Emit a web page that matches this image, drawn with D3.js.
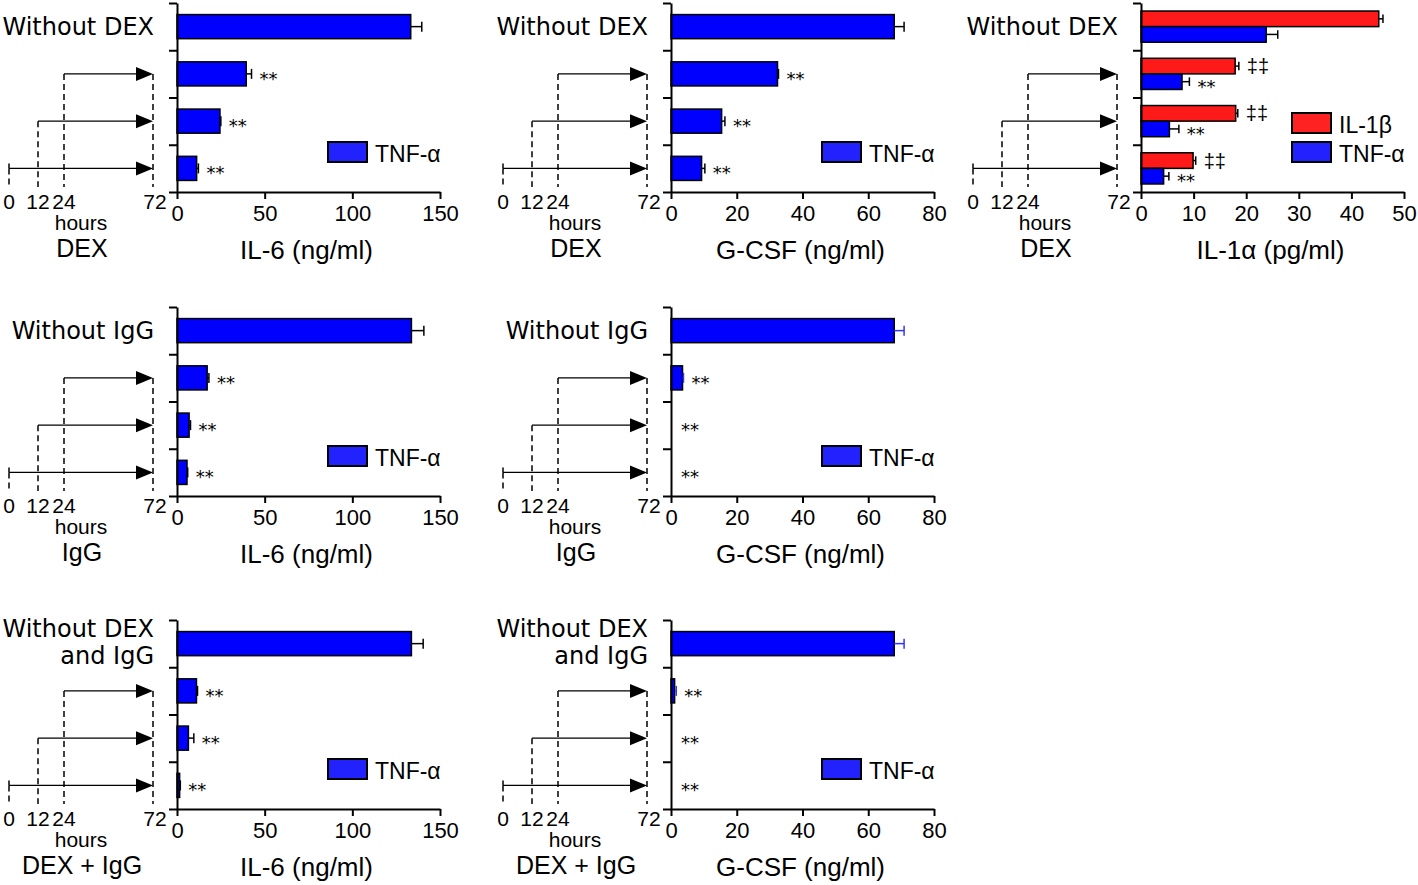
<!DOCTYPE html>
<html><head><meta charset="utf-8">
<script src="https://cdn.jsdelivr.net/npm/d3@7"></script>
<style>body{margin:0;background:#fff}svg{display:block}</style>
</head><body>
<svg id="c" width="1418" height="885"></svg>
<script>
// ---------- DATA ----------
const startHours = [null, 24, 12, 0];          // DEX/IgG given from hour .. to 72
const timeTicks = [0, 12, 24, 72];
const sigTNF = ["", "**", "**", "**"];
const sigIL1b = ["", "\u2021\u2021", "\u2021\u2021", "\u2021\u2021"];

const il6Ticks = [0, 50, 100, 150];
const gcsfTicks = [0, 20, 40, 60, 80];
const il1aTicks = [0, 10, 20, 30, 40, 50];

// Row 1: DEX
const il6Dex = [133.3, 39.5, 24.5, 11.2];
const il6DexErr = [6.3, 3.0, 0.5, 1.0];
const gcsfDex = [67.9, 32.4, 15.4, 9.3];
const gcsfDexErr = [3.0, 0.3, 1.0, 1.0];
const il1aDexIL1b = [45.2, 17.9, 18.0, 9.9];
const il1aDexIL1bErr = [0.8, 0.7, 0.4, 0.5];
const il1aDexTNF = [23.8, 7.8, 5.4, 4.3];
const il1aDexTNFErr = [2.2, 1.4, 1.8, 1.0];
// Row 2: IgG
const il6IgG = [133.7, 17.2, 6.9, 5.7];
const il6IgGErr = [7.1, 1.0, 0.8, 0.4];
const gcsfIgG = [67.9, 3.5, 0, 0];
const gcsfIgGErr = [3.0, 0.3, 0, 0];
// Row 3: DEX + IgG
const il6DexIgG = [133.7, 11.1, 6.5, 1.5];
const il6DexIgGErr = [6.7, 0.6, 3.1, 0.4];
const gcsfDexIgG = [67.9, 1.1, 0, 0];
const gcsfDexIgGErr = [3.0, 0.5, 0, 0];

const controlDex = ["Without DEX"];
const controlIgG = ["Without IgG"];
const controlDexIgG = ["Without DEX", "and IgG"];

// ---------- STYLE / LAYOUT ----------
const BLUE = "#0000ff", BLUE_LEG = "#2222ff", RED = "#ff1a1a", RED_LEG = "#ff2222";
const FONT = "'Liberation Sans', Arial, sans-serif";
const LFONT = "'DejaVu Sans', sans-serif";
const colX = [177, 671, 1141];
const rowY = [3, 307, 620];
const W = 263, H = 189;

const svg = d3.select("#c");

const tnfSeries = (v, e, errColor) => ({name: "TNF-\u03b1", values: v, err: e, color: BLUE, leg: BLUE_LEG, sig: sigTNF, errColor: errColor || "#000"});

const panels = [
  {col:0,row:0,ticks:il6Ticks,title:"IL-6 (ng/ml)",treat:"DEX",control:controlDex,series:[tnfSeries(il6Dex,il6DexErr)]},
  {col:1,row:0,ticks:gcsfTicks,title:"G-CSF (ng/ml)",treat:"DEX",control:controlDex,series:[tnfSeries(gcsfDex,gcsfDexErr)]},
  {col:2,row:0,ticks:il1aTicks,title:"IL-1\u03b1 (pg/ml)",treat:"DEX",control:controlDex,series:[
     {name:"IL-1\u03b2",values:il1aDexIL1b,err:il1aDexIL1bErr,color:RED,leg:RED_LEG,sig:sigIL1b,errColor:"#000"},
     tnfSeries(il1aDexTNF,il1aDexTNFErr)]},
  {col:0,row:1,ticks:il6Ticks,title:"IL-6 (ng/ml)",treat:"IgG",control:controlIgG,series:[tnfSeries(il6IgG,il6IgGErr)]},
  {col:1,row:1,ticks:gcsfTicks,title:"G-CSF (ng/ml)",treat:"IgG",control:controlIgG,series:[tnfSeries(gcsfIgG,gcsfIgGErr,"#3333ff")]},
  {col:0,row:2,ticks:il6Ticks,title:"IL-6 (ng/ml)",treat:"DEX + IgG",control:controlDexIgG,series:[tnfSeries(il6DexIgG,il6DexIgGErr)]},
  {col:1,row:2,ticks:gcsfTicks,title:"G-CSF (ng/ml)",treat:"DEX + IgG",control:controlDexIgG,series:[tnfSeries(gcsfDexIgG,gcsfDexIgGErr,"#3333ff")]}
];

function drawPanel(p) {
  const g = svg.append("g").attr("transform", `translate(${colX[p.col]},${rowY[p.row]})`);
  const x = d3.scaleLinear().domain(d3.extent(p.ticks)).range([0, W]);
  const y = d3.scaleBand().domain(d3.range(4)).range([0, H]);
  const bw = y.bandwidth();
  const nS = p.series.length;
  const frac = nS === 1 ? 0.51 : 0.66;
  const inner = d3.scaleBand().domain(d3.range(nS)).range([bw*(1-frac)/2, bw*(1+frac)/2]);
  const bh = inner.bandwidth();

  // bars
  p.series.forEach((s, si) => {
    const gs = g.append("g");
    gs.selectAll("rect").data(s.values.map((v,i)=>({v,i}))).join("rect")
      .filter(d => d.v > 0)
      .attr("x", x(0)).attr("y", d => y(d.i) + inner(si))
      .attr("width", d => x(d.v) - x(0)).attr("height", bh)
      .attr("fill", s.color).attr("stroke", "#000").attr("stroke-width", 1.5);
    // error bars
    s.values.forEach((v, i) => {
      const e = s.err[i];
      const cy = y(i) + inner(si) + bh/2;
      if (e > 0) {
        const capH = Math.min(10, bh*0.55);
        gs.append("line").attr("x1", x(v)).attr("x2", x(v+e)).attr("y1", cy).attr("y2", cy)
          .attr("stroke", s.errColor).attr("stroke-width", 1.5);
        gs.append("line").attr("x1", x(v+e)).attr("x2", x(v+e)).attr("y1", cy-capH/2).attr("y2", cy+capH/2)
          .attr("stroke", s.errColor).attr("stroke-width", 1.5);
      }
      const sg = s.sig[i];
      if (sg) {
        const isStar = sg.indexOf("*") >= 0;
        gs.append("text").attr("x", x(v+e) + (v > 0 ? 8 : 10)).attr("y", cy + (isStar ? 11 : 7))
          .attr("font-family", isStar ? LFONT : FONT).attr("font-size", isStar ? 18 : 20).text(sg);
      }
    });
  });

  // y axis
  const yl = d3.scaleLinear().domain([0,4]).range([0,H]);
  const ya = g.append("g").call(d3.axisLeft(yl).tickValues([0,1,2,3,4]).tickFormat("").tickSize(8).tickSizeOuter(0));
  ya.selectAll("path,line").attr("stroke", "#000").attr("stroke-width", 2);

  // x axis
  const xa = g.append("g").attr("transform", `translate(0,${H})`)
    .call(d3.axisBottom(x).tickValues(p.ticks).tickSize(7).tickSizeOuter(0).tickPadding(6));
  xa.selectAll("path,line").attr("stroke", "#000").attr("stroke-width", 2);
  xa.selectAll("text").attr("font-family", FONT).attr("font-size", 22).attr("fill", "#000");

  g.append("text").attr("x", W/2 - 2).attr("y", H + 67).attr("text-anchor", "middle")
    .attr("font-family", FONT).attr("font-size", 26).text(p.title);

  // legend
  const legs = p.series.slice().reverse();
  legs.forEach((s, k) => {
    const top = 139 - 29*k;
    g.append("rect").attr("x", 151).attr("y", top).attr("width", 39).attr("height", 20)
      .attr("fill", s.leg).attr("stroke", "#000").attr("stroke-width", 2);
    g.append("text").attr("x", 198).attr("y", top + 20).attr("font-family", FONT).attr("font-size", 23).text(s.name);
  });

  // control label
  const c0 = y(0) + bw/2;
  const offs = p.control.length === 1 ? [0] : [-15.5, 12];
  p.control.forEach((t, k) => {
    g.append("text").attr("x", -23).attr("y", c0 + offs[k] + 8.8).attr("text-anchor", "end")
      .attr("font-family", LFONT).attr("font-size", 24).text(t);
  });

  // time schematic
  const t = d3.scaleLinear().domain(timeTicks).range([-168, -139, -113, -24]);
  const sch = g.append("g");
  const dashEnd = H - 5;
  const firstArrowY = y(1) + bw/2;
  startHours.forEach((h, i) => {
    if (h === null) return;
    const cy = y(i) + bw/2;
    sch.append("line").attr("x1", t(h)).attr("x2", t(72) - 16).attr("y1", cy).attr("y2", cy)
      .attr("stroke", "#000").attr("stroke-width", 1.3);
    sch.append("path").attr("d", `M${t(72)},${cy}L${t(72)-17},${cy-7}L${t(72)-17},${cy+7}Z`).attr("fill", "#000");
    if (h === 0) {
      sch.append("line").attr("x1", t(h)).attr("x2", t(h)).attr("y1", cy - 5).attr("y2", cy)
        .attr("stroke", "#000").attr("stroke-width", 1.5);
    }
    sch.append("line").attr("x1", t(h)).attr("x2", t(h)).attr("y1", cy).attr("y2", dashEnd)
      .attr("stroke", "#000").attr("stroke-width", 1.5).attr("stroke-dasharray", "6,4");
  });
  sch.append("line").attr("x1", t(72)).attr("x2", t(72)).attr("y1", firstArrowY).attr("y2", dashEnd)
    .attr("stroke", "#000").attr("stroke-width", 1.5).attr("stroke-dasharray", "6,4");
  timeTicks.forEach(v => {
    sch.append("text").attr("x", t(v) + (v === 72 ? 2 : 0)).attr("y", H + 17).attr("text-anchor", "middle")
      .attr("font-family", FONT).attr("font-size", 21).text(v);
  });
  sch.append("text").attr("x", -96).attr("y", H + 38).attr("text-anchor", "middle")
    .attr("font-family", FONT).attr("font-size", 21).text("hours");
  sch.append("text").attr("x", -95).attr("y", H + 65).attr("text-anchor", "middle")
    .attr("font-family", FONT).attr("font-size", 25).text(p.treat);
}

panels.forEach(drawPanel);
</script>
</body></html>
